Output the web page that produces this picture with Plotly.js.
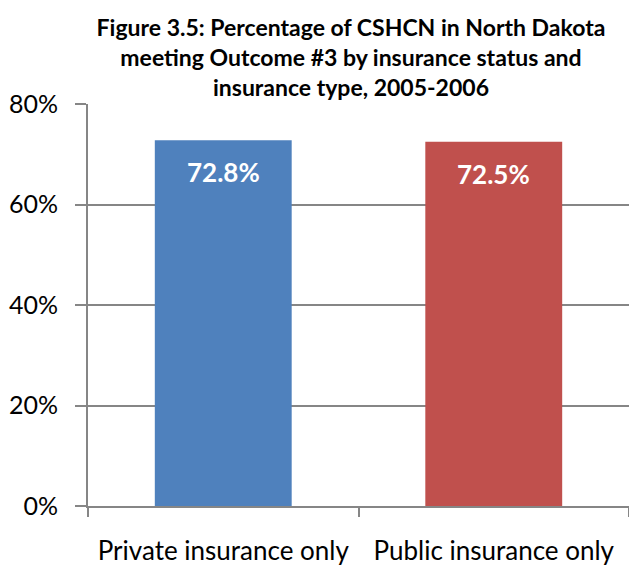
<!DOCTYPE html>
<html>
<head>
<meta charset="utf-8">
<script src="https://cdn.plot.ly/plotly-3.0.1.min.js"></script>
<style>
html,body{margin:0;padding:0;background:#fff;}
#chart{width:629px;height:565px;}
</style>
</head>
<body>
<div id="chart"></div>
<script>
const categories = ["Private insurance only", "Public insurance only"];
const values = [72.8, 72.5];
const valueLabels = ["72.8%", "72.5%"];
const barColors = ["#4F81BD", "#C0504D"];
const yTickVals = [0, 20, 40, 60, 80];
const yTickText = ["0%", "20%", "40%", "60%", "80%"];
const titleText = "Figure 3.5: Percentage of CSHCN in North Dakota<br>meeting Outcome #3 by insurance status and<br>insurance type, 2005-2006";

const FONT = "Lato, 'Open Sans', sans-serif";

const trace = {
  type: "bar",
  x: categories,
  y: values,
  marker: {color: barColors, line: {width: 0}},
  hoverinfo: "none"
};

const annotations = categories.map((c, i) => ({
  x: c, y: values[i], xref: "x", yref: "y",
  text: "<b>" + valueLabels[i] + "</b>",
  showarrow: false, yanchor: "middle", yshift: -32,
  font: {family: FONT, size: 26, color: "#ffffff"}
}));

const layout = {
  width: 629, height: 565,
  margin: {l: 88, r: 0, t: 104, b: 59},
  paper_bgcolor: "#ffffff", plot_bgcolor: "#ffffff",
  font: {family: FONT, color: "#000000"},
  showlegend: false,
  bargap: 0.494,
  title: {
    text: "<b>" + titleText + "</b>",
    font: {family: FONT, size: 23, color: "#000000"},
    xref: "container", x: 0.558, xanchor: "center",
    yref: "container", y: 0.936, yanchor: "top"
  },
  xaxis: {
    type: "category",
    showgrid: false,
    showline: true, linecolor: "#868686", linewidth: 2,
    ticks: "outside", tickson: "boundaries", ticklen: 9, tickwidth: 2, tickcolor: "#868686",
    tickfont: {family: FONT, size: 26, color: "#000000"},
    ticklabelstandoff: 21,
    fixedrange: true
  },
  yaxis: {
    range: [0, 80],
    tickvals: yTickVals, ticktext: yTickText,
    showgrid: true, gridcolor: "#868686", gridwidth: 2,
    showline: true, linecolor: "#868686", linewidth: 2,
    ticks: "outside", ticklen: 11, tickwidth: 2, tickcolor: "#868686",
    tickfont: {family: FONT, size: 25, color: "#000000"},
    ticklabelstandoff: 12,
    zeroline: false,
    fixedrange: true
  },
  annotations: annotations
};

Plotly.newPlot("chart", [trace], layout, {displayModeBar: false, staticPlot: true});
</script>
</body>
</html>
